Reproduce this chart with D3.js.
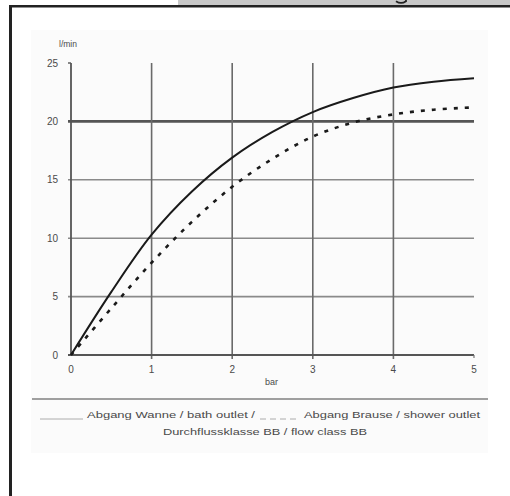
<!DOCTYPE html>
<html><head><meta charset="utf-8">
<script src="https://cdn.jsdelivr.net/npm/d3@7"></script>
<style>html,body{margin:0;padding:0;background:#fff;}svg{display:block;}</style>
</head><body>
<script>
const pressureBar  = [0, 0.5, 1, 1.5, 2, 2.5, 3, 3.5, 4, 4.5, 5];
const bathOutlet   = [0, 5.4, 10.3, 14.0, 16.9, 19.1, 20.8, 22.0, 22.9, 23.4, 23.7];
const showerOutlet = [0, 4.0, 7.9, 11.4, 14.4, 16.8, 18.7, 19.9, 20.6, 21.0, 21.2];
const xTicks = [0, 1, 2, 3, 4, 5];
const yTicks = [0, 5, 10, 15, 20, 25];
const yUnit = "l/min";
const xUnit = "bar";
const legendLine2 = "Durchflussklasse BB / flow class BB";

const W = 510, H = 496;
const svg = d3.select("body").append("svg").attr("width", W).attr("height", H);
const font = "'Liberation Sans', Arial, sans-serif";
const txt = "#4a4a4a";

// faint page backdrop
svg.append("rect").attr("x", 31).attr("y", 30).attr("width", 457).attr("height", 423).attr("fill", "#fbfbfb");

// header strip (cut off at the top of the picture)
svg.append("rect").attr("x", 178).attr("y", 0).attr("width", 332).attr("height", 5).attr("fill", "#c8c8c8");
svg.append("path").attr("d", "M396,1.2 Q401,4.6 406,1.2 L406,-1").attr("fill", "none")
  .attr("stroke", "#222").attr("stroke-width", 1.8);
// frame
svg.append("rect").attr("x", 9).attr("y", 5).attr("width", 501).attr("height", 2.5).attr("fill", "#222");
svg.append("rect").attr("x", 9).attr("y", 5).attr("width", 3).attr("height", 491).attr("fill", "#222");

const x = d3.scaleLinear().domain([0, 5]).range([71, 474]);
const y = d3.scaleLinear().domain([0, 25]).range([355, 63]);

const grid = svg.append("g");
yTicks.filter(v => v > 0 && v < 25).forEach(v => {
  grid.append("line").attr("x1", x(0) - 3).attr("x2", x(5)).attr("y1", y(v)).attr("y2", y(v))
    .attr("stroke", v === 20 ? "#555" : "#8a8a8a").attr("stroke-width", v === 20 ? 2.6 : 1.6);
});
xTicks.filter(v => v > 0 && v < 5).forEach(v => {
  grid.append("line").attr("x1", x(v)).attr("x2", x(v)).attr("y1", y(25)).attr("y2", y(0) + 4)
    .attr("stroke", "#6a6a6a").attr("stroke-width", 1.6);
});
grid.append("line").attr("x1", x(0)).attr("x2", x(0)).attr("y1", y(25)).attr("y2", y(0))
  .attr("stroke", "#555").attr("stroke-width", 1.8);
grid.append("line").attr("x1", x(0) - 3).attr("x2", x(0)).attr("y1", y(25)).attr("y2", y(25))
  .attr("stroke", "#555").attr("stroke-width", 1.4);
grid.append("line").attr("x1", x(0) - 3).attr("x2", x(5)).attr("y1", y(0)).attr("y2", y(0))
  .attr("stroke", "#555").attr("stroke-width", 2);
grid.append("line").attr("x1", x(5)).attr("x2", x(5)).attr("y1", y(0)).attr("y2", y(0) + 3)
  .attr("stroke", "#777").attr("stroke-width", 1.2);

// tick labels
svg.append("g").selectAll("text").data(yTicks).join("text")
  .attr("x", 58).attr("y", d => y(d) + 3.5).attr("text-anchor", "end")
  .attr("font-family", font).attr("font-size", 10).attr("fill", txt).text(d => d);
svg.append("g").selectAll("text").data(xTicks).join("text")
  .attr("x", d => x(d)).attr("y", 373).attr("text-anchor", "middle")
  .attr("font-family", font).attr("font-size", 10).attr("fill", txt).text(d => d);
svg.append("text").attr("x", 59).attr("y", 47).attr("font-family", font).attr("font-size", 8.5)
  .attr("fill", txt).text(yUnit);
svg.append("text").attr("x", 265).attr("y", 385).attr("font-family", font).attr("font-size", 9)
  .attr("fill", txt).text(xUnit);

// curves
const line = d3.line().x((d, i) => x(pressureBar[i])).y(d => y(d)).curve(d3.curveCatmullRom.alpha(0.5));
svg.append("path").datum(showerOutlet).attr("d", line).attr("fill", "none")
  .attr("stroke", "#1a1a1a").attr("stroke-width", 2.6).attr("stroke-dasharray", "4,7");
svg.append("path").datum(bathOutlet).attr("d", line).attr("fill", "none")
  .attr("stroke", "#1a1a1a").attr("stroke-width", 2);

// separator
svg.append("line").attr("x1", 32).attr("x2", 488).attr("y1", 399).attr("y2", 399)
  .attr("stroke", "#808080").attr("stroke-width", 1.5);

// legend
const lg = svg.append("g").attr("font-family", font).attr("font-size", 9.5).attr("fill", txt);
lg.append("line").attr("x1", 40).attr("x2", 83).attr("y1", 419).attr("y2", 419).attr("stroke", "#999").attr("stroke-width", 0.8);
lg.append("text").attr("x", 87).attr("y", 418).attr("textLength", 168).attr("lengthAdjust", "spacingAndGlyphs")
  .text("Abgang Wanne / bath outlet /");
lg.append("line").attr("x1", 260).attr("x2", 297).attr("y1", 419).attr("y2", 419).attr("stroke", "#999")
  .attr("stroke-width", 0.8).attr("stroke-dasharray", "6,4");
lg.append("text").attr("x", 304).attr("y", 418).attr("textLength", 176).attr("lengthAdjust", "spacingAndGlyphs")
  .text("Abgang Brause / shower outlet");
lg.append("text").attr("x", 163).attr("y", 435).attr("textLength", 204).attr("lengthAdjust", "spacingAndGlyphs")
  .text(legendLine2);
</script>
</body></html>
